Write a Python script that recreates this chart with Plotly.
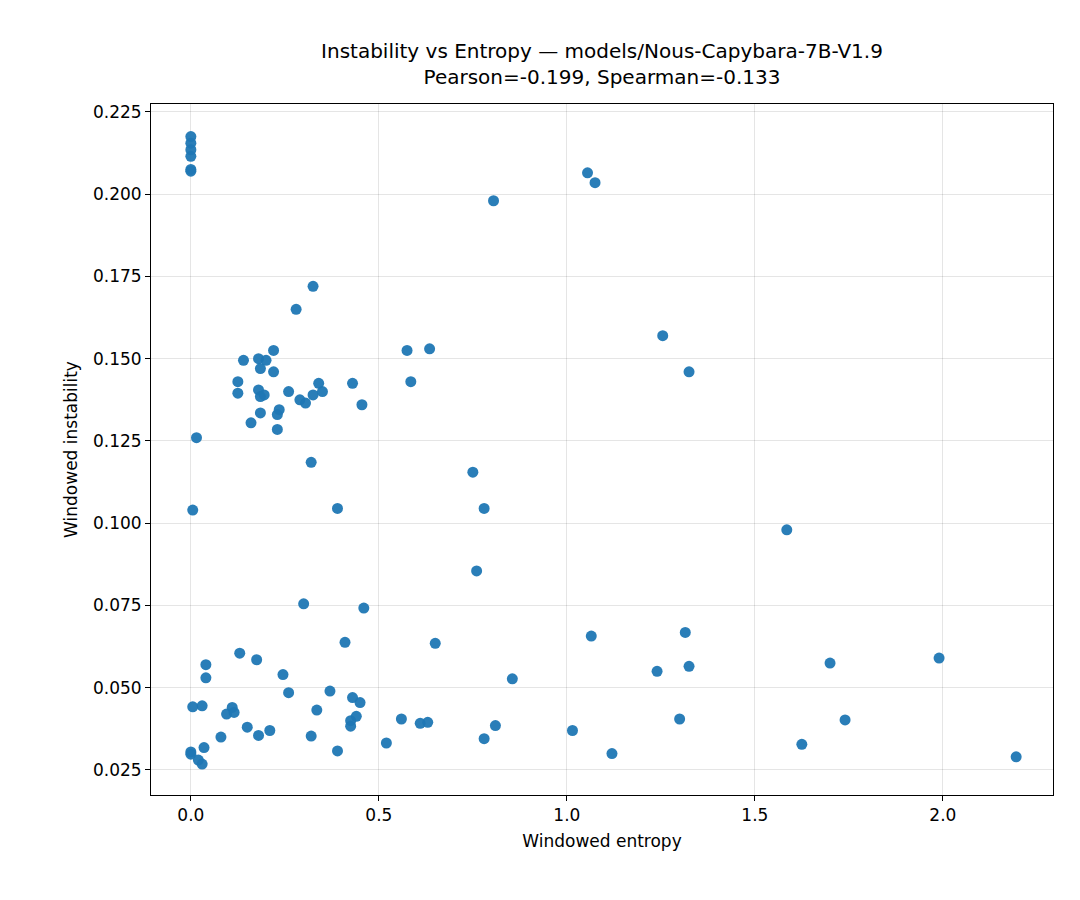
import plotly.graph_objects as go

# windowed entropy / instability
entropy = [0, 0, 0, 0, 0, 0,
           1.055, 1.075, 0.805, 0.325, 0.28,
           0.14, 0.18, 0.20, 0.22, 0.22, 0.185, 0.125, 0.125, 0.18, 0.185, 0.195, 0.185,
           0.16, 0.23, 0.235, 0.23, 0.26, 0.29, 0.305, 0.325, 0.34, 0.35, 0.43, 0.455,
           0.575, 0.585, 0.635, 0.32, 0.015, 0.005, 0.39, 0.75, 0.78, 0.76,
           1.255, 1.325, 1.585,
           0.30, 0.46, 0.41, 0.65, 1.065, 1.315, 0.04, 0.04, 0.13, 0.175, 0.245, 0.26,
           0.37, 0.43, 0.45, 0.335, 0.005, 0.03, 0.11, 0.095, 0.115, 0.08, 0.15, 0.18,
           0.21, 0.32, 0.39, 0.425, 0.425, 0.44, 0.52, 0.56, 0.61, 0.63, 0.78, 0.81,
           0.855, 1.015, 1.12, 1.24, 1.325, 1.30, 1.625, 1.70, 1.74, 1.99, 2.195,
           0.0, 0.0, 0.02, 0.03, 0.035]
instability = [0.2175, 0.2155, 0.2135, 0.2115, 0.2075, 0.207,
               0.2065, 0.2035, 0.198, 0.172, 0.165,
               0.1495, 0.150, 0.1495, 0.1525, 0.146, 0.147, 0.143, 0.1395, 0.1405, 0.1385, 0.139, 0.1335,
               0.1305, 0.133, 0.1345, 0.1285, 0.140, 0.1375, 0.1365, 0.139, 0.1425, 0.140, 0.1425, 0.136,
               0.1525, 0.143, 0.153, 0.1185, 0.126, 0.104, 0.1045, 0.1155, 0.1045, 0.0855,
               0.157, 0.146, 0.098,
               0.0755, 0.0742, 0.0638, 0.0635, 0.0657, 0.0668, 0.057, 0.053, 0.0605, 0.0585, 0.054, 0.0485,
               0.049, 0.047, 0.0455, 0.0432, 0.0442, 0.0445, 0.044, 0.042, 0.0425, 0.035, 0.038, 0.0355,
               0.037, 0.0353, 0.0308, 0.040, 0.0383, 0.0413, 0.0332, 0.0405, 0.0392, 0.0395, 0.0345, 0.0385,
               0.0527, 0.037, 0.030, 0.055, 0.0565, 0.0405, 0.0328, 0.0575, 0.0402, 0.059, 0.029,
               0.0305, 0.0298, 0.028, 0.0268, 0.0318]

x_ticks = [0.0, 0.5, 1.0, 1.5, 2.0]
y_ticks = [0.025, 0.05, 0.075, 0.1, 0.125, 0.15, 0.175, 0.2, 0.225]

fig = go.Figure(go.Scatter(
    x=entropy, y=instability, mode="markers",
    marker=dict(color="#1f77b4", size=11, opacity=0.95, line=dict(width=0)),
    showlegend=False,
))

axis_common = dict(
    showline=True, linecolor="black", linewidth=1, mirror=True,
    ticks="outside", ticklen=5, tickcolor="black",
    showgrid=True, gridcolor="rgba(0,0,0,0.1)", gridwidth=1, zeroline=False,
    tickfont=dict(size=17, color="black"),
)

fig.update_layout(
    width=1080, height=900,
    paper_bgcolor="white", plot_bgcolor="white",
    font=dict(family="DejaVu Sans", color="black"),
    margin=dict(l=143, r=35, t=96, b=113),
    title=dict(
        text="Instability vs Entropy — models/Nous-Capybara-7B-V1.9<br>Pearson=-0.199, Spearman=-0.133",
        x=(143 + 1045) / 2 / 1080, xanchor="center", y=0.945, yanchor="middle",
        font=dict(size=20),
    ),
    xaxis=dict(axis_common, range=[-0.106, 2.293], tickvals=x_ticks,
               ticktext=[f"{v:.1f}" for v in x_ticks],
               title=dict(text="Windowed entropy", font=dict(size=17), standoff=10)),
    yaxis=dict(axis_common, range=[0.0174, 0.2274], tickvals=y_ticks,
               ticktext=[f"{v:.3f}" for v in y_ticks],
               title=dict(text="Windowed instability", font=dict(size=17), standoff=10)),
)

fig.write_html("out.html")
